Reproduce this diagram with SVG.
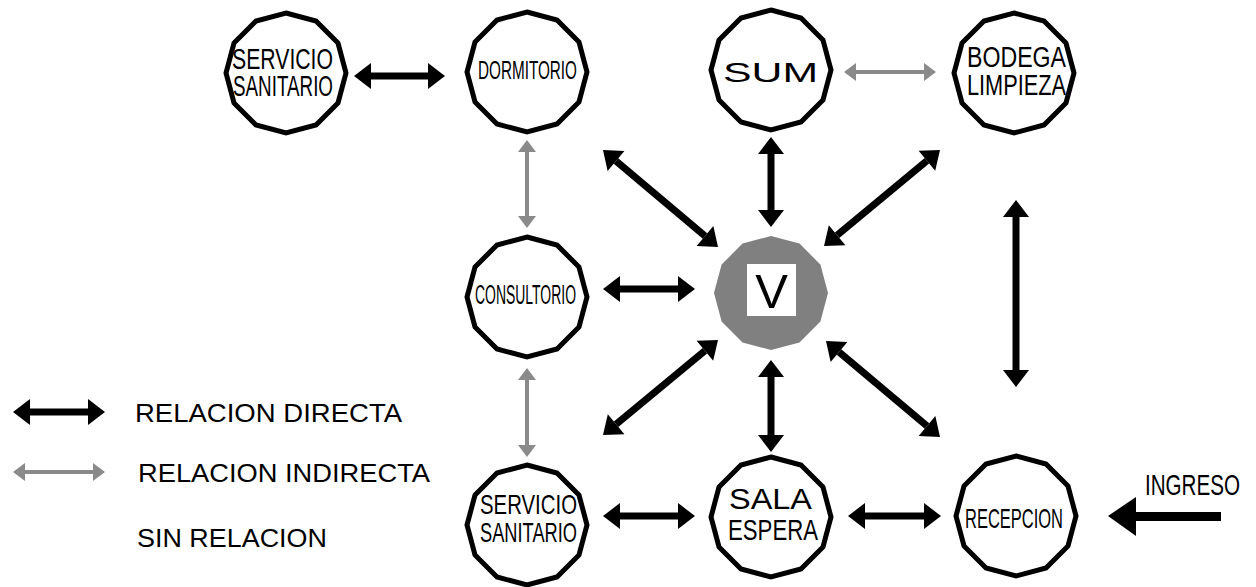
<svg xmlns="http://www.w3.org/2000/svg" xmlns:xlink="http://www.w3.org/1999/xlink" width="1256" height="587" viewBox="0 0 1256 587">
<style>
.node{fill:#fff;stroke:#000;stroke-width:5;stroke-linejoin:miter}
.lbl{font-family:"Liberation Sans",Arial,sans-serif;fill:#000;text-anchor:start}
.d{stroke:#000;stroke-width:7;fill:none;marker-start:url(#hd);marker-end:url(#hd)}
.i{stroke:#8a8a8a;stroke-width:4;fill:none;marker-start:url(#hi);marker-end:url(#hi)}
.leg{font-family:"Liberation Sans",Arial,sans-serif;font-size:26px;fill:#000}
</style>
<defs>
<marker id="hd" markerUnits="userSpaceOnUse" markerWidth="18" markerHeight="26" refX="0" refY="13" orient="auto-start-reverse" overflow="visible"><path d="M0,0 L17,13 L0,26 Z" fill="#000"/></marker>
<marker id="hi" markerUnits="userSpaceOnUse" markerWidth="13" markerHeight="18" refX="0" refY="9" orient="auto-start-reverse" overflow="visible"><path d="M0,0 L12,9 L0,18 Z" fill="#8a8a8a"/></marker>
<polygon id="dodec" points="0,-60 30,-52 52,-30 60,0 52,30 30,52 0,60 -30,52 -52,30 -60,0 -52,-30 -30,-52"/>
</defs>
<rect width="1256" height="587" fill="#fff"/>

<g id="connectors">
<line class="d" x1="371" y1="76" x2="428" y2="76"/>
<line class="i" x1="856" y1="72" x2="924" y2="72"/>
<line class="i" x1="527" y1="152" x2="527" y2="216"/>
<line class="i" x1="527" y1="380" x2="527" y2="445"/>
<line class="d" x1="620" y1="289" x2="678" y2="289"/>
<line class="d" x1="771" y1="154" x2="771" y2="210"/>
<line class="d" x1="771" y1="377" x2="771" y2="435"/>
<line class="d" x1="620" y1="516" x2="678" y2="516"/>
<line class="d" x1="865" y1="516" x2="924" y2="516"/>
<line class="d" x1="1016" y1="217" x2="1016" y2="370"/>
<line class="d" x1="616" y1="161" x2="705" y2="236"/>
<line class="d" x1="926.9" y1="160.8" x2="837.1" y2="235.2"/>
<line class="d" x1="616.1" y1="424.2" x2="704.9" y2="350.8"/>
<line class="d" x1="839" y1="352" x2="927" y2="426"/>
<g id="ingreso-arrow">
<rect x="1134" y="512" width="87" height="9" fill="#000"/>
<polygon points="1108,516 1136,497 1136,536" fill="#000"/>
</g>
</g>

<g id="n-ss-top">
<use xlink:href="#dodec" href="#dodec" class="node" transform="translate(286,73)"/>
<text class="lbl" x="232" y="69" font-size="29" textLength="101" lengthAdjust="spacingAndGlyphs">SERVICIO</text>
<text class="lbl" x="233" y="96" font-size="29" textLength="100" lengthAdjust="spacingAndGlyphs">SANITARIO</text>
</g>
<g id="n-dormitorio">
<use xlink:href="#dodec" href="#dodec" class="node" transform="translate(527,72)"/>
<text class="lbl" x="478" y="79" font-size="25" textLength="99" lengthAdjust="spacingAndGlyphs">DORMITORIO</text>
</g>
<g id="n-sum">
<use xlink:href="#dodec" href="#dodec" class="node" transform="translate(771,70)"/>
<text class="lbl" x="723" y="82" font-size="28" textLength="95" lengthAdjust="spacingAndGlyphs">SUM</text>
</g>
<g id="n-bodega">
<use xlink:href="#dodec" href="#dodec" class="node" transform="translate(1014,73)"/>
<text class="lbl" x="967" y="67" font-size="29" textLength="99" lengthAdjust="spacingAndGlyphs">BODEGA</text>
<text class="lbl" x="967" y="95" font-size="29" textLength="99" lengthAdjust="spacingAndGlyphs">LIMPIEZA</text>
</g>
<g id="n-consultorio">
<use xlink:href="#dodec" href="#dodec" class="node" transform="translate(527,297)"/>
<text class="lbl" x="475" y="304" font-size="27" textLength="101" lengthAdjust="spacingAndGlyphs">CONSULTORIO</text>
</g>
<g id="n-v">
<polygon points="0,-57 28.5,-49.4 49.4,-28.5 57,0 49.4,28.5 28.5,49.4 0,57 -28.5,49.4 -49.4,28.5 -57,0 -49.4,-28.5 -28.5,-49.4" fill="#808080" transform="translate(771,293)"/>
<rect x="747" y="264" width="49" height="52" fill="#fff"/>
<text x="771.5" y="308" font-family="'Liberation Sans',Arial,sans-serif" font-size="49" text-anchor="middle" fill="#000">V</text>
</g>
<g id="n-ss-bottom">
<use xlink:href="#dodec" href="#dodec" class="node" transform="translate(527,525)"/>
<text class="lbl" x="480" y="514" font-size="28" textLength="97" lengthAdjust="spacingAndGlyphs">SERVICIO</text>
<text class="lbl" x="480" y="542" font-size="28" textLength="97" lengthAdjust="spacingAndGlyphs">SANITARIO</text>
</g>
<g id="n-sala">
<use xlink:href="#dodec" href="#dodec" class="node" transform="translate(771,517)"/>
<text class="lbl" x="729" y="509" font-size="29" textLength="83" lengthAdjust="spacingAndGlyphs">SALA</text>
<text class="lbl" x="728" y="540" font-size="29" textLength="90" lengthAdjust="spacingAndGlyphs">ESPERA</text>
</g>
<g id="n-recepcion">
<use xlink:href="#dodec" href="#dodec" class="node" transform="translate(1016,516)"/>
<text class="lbl" x="965" y="528" font-size="28" textLength="98" lengthAdjust="spacingAndGlyphs">RECEPCION</text>
</g>
<g id="ingreso">
<text class="lbl" x="1145" y="495" font-size="30" textLength="95" lengthAdjust="spacingAndGlyphs">INGRESO</text>
</g>

<g id="legend">
<line class="d" x1="30" y1="412" x2="88" y2="412"/>
<line class="i" x1="25" y1="472" x2="93" y2="472"/>
<text class="leg" x="135" y="422" textLength="267" lengthAdjust="spacingAndGlyphs">RELACION DIRECTA</text>
<text class="leg" x="138" y="482" textLength="292" lengthAdjust="spacingAndGlyphs">RELACION INDIRECTA</text>
<text class="leg" x="137" y="547" textLength="190" lengthAdjust="spacingAndGlyphs">SIN RELACION</text>
</g>
</svg>
